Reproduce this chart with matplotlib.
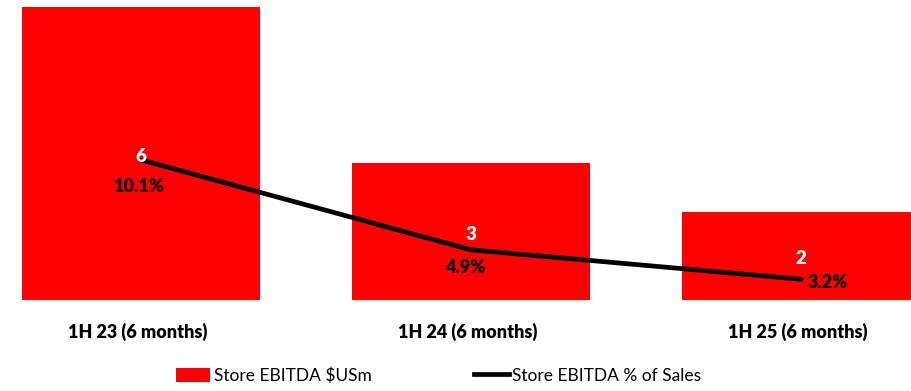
import matplotlib
matplotlib.use("Agg")
import matplotlib.pyplot as plt
from matplotlib.patches import Patch
from matplotlib.lines import Line2D

plt.rcParams['font.family'] = ['Lato', 'DejaVu Sans']

categories = ["1H 23 (6 months)", "1H 24 (6 months)", "1H 25 (6 months)"]
ebitda_usm = [6.0, 2.8, 1.8]
ebitda_pct = [10.1, 4.9, 3.2]

fig = plt.figure(figsize=(9.12, 3.91), dpi=100)
ax = fig.add_axes([0.0, 0.2327, 1.0, 0.7673])
x = list(range(len(categories)))

ax.bar(x, ebitda_usm, width=0.72, color="#ff0000", zorder=1)
ax.set_xlim(-0.427, 2.336)
ax.set_ylim(0, 6.15)
ax.axis("off")

ax2 = ax.twinx()
ax2.plot(x, ebitda_pct, color="black", lw=3.4, solid_capstyle="round", zorder=2)
ax2.set_ylim(2.0, 19.34)
ax2.axis("off")

# Bar value labels, centred inside each bar (drawn above the line)
for xi, v in zip(x, ebitda_usm):
    ax2.annotate(f"{v:.0f}", xy=(xi, v / 2), xycoords=ax.transData,
                 xytext=(0, -2), textcoords="offset points", color="white",
                 fontsize=13.5, fontweight="heavy", ha="center", va="center",
                 zorder=5)

# Percentage labels near each line point
pct_offsets = [(-2, -19), (-4, -13), (19, -2)]
for xi, p, off in zip(x, ebitda_pct, pct_offsets):
    ax2.annotate(f"{p:.1f}%", xy=(xi, p), xytext=off, textcoords="offset points",
                 ha="center", va="center", fontsize=13, fontweight="heavy",
                 color="black", zorder=6)

# Category labels beneath the bars
for xi, c in zip(x, categories):
    ax.text(xi - 0.01, -0.65, c, ha="center", va="center", fontsize=13,
            fontweight="heavy", color="black", clip_on=False)

handles = [Patch(facecolor="#ff0000", edgecolor="none"),
           Line2D([0], [0], color="black", lw=3.4)]
fig.legend(handles, ["Store EBITDA $USm", "Store EBITDA % of Sales"],
           loc="center", bbox_to_anchor=(0.481, 0.04), ncol=2, frameon=False,
           fontsize=12.5, handlelength=2.0, handleheight=0.85, handletextpad=0.2,
           columnspacing=5.9)

fig.savefig("out.png", dpi=100)
